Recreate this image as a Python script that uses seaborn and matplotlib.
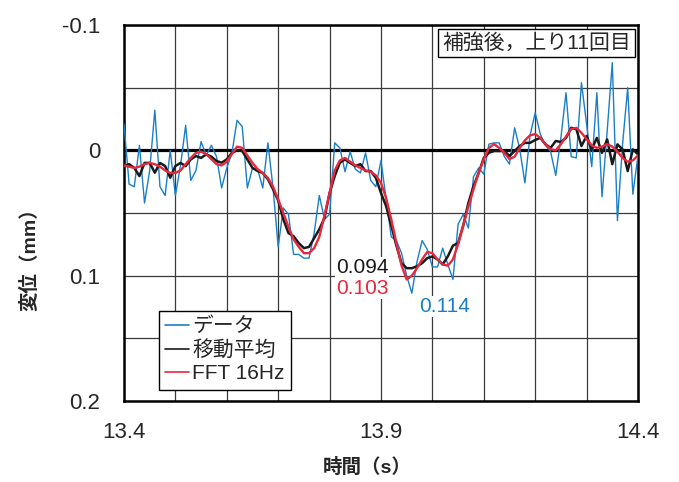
import numpy as np
import pandas as pd
import matplotlib
matplotlib.use('Agg')
import matplotlib.pyplot as plt
import seaborn as sns

# ------------------- data ----------------------------------------------
time = np.round(np.linspace(13.40, 14.40, 101), 2)

data_raw = [
    -0.021, 0.027, 0.029, -0.004, 0.042, 0.016, -0.032, 0.029, 0.036, 0.000,
    0.036, 0.012, -0.020, 0.024, 0.016, -0.007, 0.004, -0.004, 0.005, 0.030,
    0.014, 0.002, -0.024, -0.019, 0.030, 0.014, 0.015, 0.030, -0.006, 0.030,
    0.077, 0.046, 0.051, 0.083, 0.083, 0.086, 0.086, 0.066, 0.036, 0.055,
    0.051, -0.006, -0.002, 0.017, 0.001, 0.015, 0.018, 0.002, 0.024, 0.029,
    0.008, 0.039, 0.069, 0.072, 0.082, 0.100, 0.114, 0.089, 0.072, 0.079,
    0.093, 0.093, 0.078, 0.091, 0.103, 0.059, 0.051, 0.062, 0.021, 0.014,
    0.019, -0.005, -0.006, -0.006, 0.005, 0.011, -0.018, -0.001, 0.026, -0.012,
    -0.030, -0.013, -0.004, 0.001, 0.020, -0.010, -0.046, 0.005, 0.006, -0.054,
    -0.021, 0.013, -0.046, 0.037, -0.015, -0.070, 0.056, -0.005, -0.050, 0.035,
    0.004,
]

moving_avg = [
    0.0125, 0.011, 0.014, 0.0205, 0.010, 0.010, 0.0178, 0.010, 0.0125, 0.0218,
    0.0125, 0.010, 0.0125, 0.0072, 0.0045, 0.006, 0.0032, 0.005, 0.0085, 0.0098,
    0.0072, 0.0019, 0.000, 0.0005, 0.0072, 0.014, 0.0165, 0.018, 0.023, 0.031,
    0.040, 0.055, 0.066, 0.0685, 0.074, 0.078, 0.077, 0.070, 0.063, 0.054,
    0.034, 0.0205, 0.0098, 0.0072, 0.010, 0.0125, 0.011, 0.0165, 0.0165, 0.022,
    0.034, 0.0445, 0.060, 0.076, 0.090, 0.094, 0.094, 0.0925, 0.090, 0.086,
    0.0846, 0.087, 0.091, 0.0846, 0.076, 0.074, 0.060, 0.042, 0.0286, 0.018,
    0.006, 0.0019, 0.0005, 0.0005, 0.0005, 0.0045, 0.0005, -0.0035, -0.006, -0.006,
    -0.0083, -0.010, -0.0048, -0.002, -0.0075, -0.0067, -0.010, -0.018, -0.017, -0.0035,
    -0.0115, -0.0008, -0.010, 0.0019, -0.0088, 0.011, -0.0048, -0.0008, 0.0165, -0.0008,
    0.0032,
]

fft_16hz = [
    0.012, 0.013, 0.014, 0.013, 0.011, 0.010, 0.011, 0.013, 0.016, 0.018,
    0.018, 0.016, 0.011, 0.006, 0.002, 0.001, 0.003, 0.007, 0.011, 0.012,
    0.009, 0.003, -0.003, -0.002, 0.004, 0.010, 0.015, 0.018, 0.022, 0.029,
    0.039, 0.050, 0.061, 0.071, 0.077, 0.082, 0.082, 0.078, 0.069, 0.052,
    0.034, 0.016, 0.008, 0.006, 0.009, 0.012, 0.014, 0.016, 0.017, 0.020,
    0.026, 0.038, 0.055, 0.074, 0.092, 0.103, 0.100, 0.094, 0.087, 0.081,
    0.082, 0.087, 0.091, 0.092, 0.087, 0.075, 0.060, 0.045, 0.031, 0.018,
    0.007, -0.002, -0.005, -0.002, 0.002, 0.007, 0.005, -0.002, -0.008, -0.012,
    -0.013, -0.010, -0.005, -0.001, 0.000, -0.005, -0.011, -0.017, -0.018, -0.014,
    -0.009, -0.004, -0.002, -0.003, -0.005, -0.003, 0.001, 0.006, 0.009, 0.008,
    0.004,
]

series_names = ['データ', '移動平均', 'FFT 16Hz']
series_colors = ['#1a7fc6', '#1a1a1a', '#e8283c']
peak_labels = ['0.094', '0.103', '0.114']

x_ticks = [13.4, 13.5, 13.6, 13.7, 13.8, 13.9, 14.0, 14.1, 14.2, 14.3, 14.4]
x_ticklabels = ['13.4', '', '', '', '', '13.9', '', '', '', '', '14.4']
y_ticks = [-0.1, 0.0, 0.1, 0.2]
y_ticklabels = ['-0.1', '0', '0.1', '0.2']

# ------------------- plot ---------------------
sns.set_style('white')
plt.rcParams['font.family'] = ['Liberation Sans', 'Noto Sans CJK JP', 'DejaVu Sans']

fig = plt.figure(figsize=(6.79, 4.82), dpi=100)
ax = fig.add_axes([0.1826, 0.168, 0.757, 0.780])

df = pd.DataFrame({'time': time, series_names[0]: data_raw,
                   series_names[1]: moving_avg, series_names[2]: fft_16hz})

widths = [1.0, 1.8, 1.7]
for name, col, lw in zip(series_names, series_colors, widths):
    sns.lineplot(data=df, x='time', y=name, ax=ax, color=col, lw=lw, label=name, zorder=3)

ax.axhline(0, color='black', lw=2.3, zorder=2)

ax.set_xlim(13.4, 14.4)
ax.set_ylim(0.2, -0.1)
ax.set_xticks(x_ticks)
ax.set_xticklabels(x_ticklabels)
ax.set_yticks(y_ticks)
ax.set_yticklabels(y_ticklabels)
ax.set_yticks([-0.05, 0.05, 0.15], minor=True)
ax.grid(True, which='both', color='#3a3a3a', lw=0.9, zorder=1)
ax.tick_params(axis='both', which='both', length=0, labelsize=16)
ax.tick_params(axis='y', pad=17)
ax.tick_params(axis='x', pad=15)
for sp in ax.spines.values():
    sp.set_color('black')
    sp.set_linewidth(1.8)

ax.set_xlabel('時間（s）', fontsize=14, fontweight='bold')
ax.set_ylabel('変位（mm）', fontsize=14, fontweight='bold')
ax.xaxis.set_label_coords(0.473, -0.176)
ax.yaxis.set_label_coords(-0.183, 0.39)
ax.xaxis.label.set_va('center')
ax.yaxis.label.set_va('center')

# peak annotations
ax.text(13.863, 0.0934, peak_labels[0], color=series_colors[1], fontsize=15,
        ha='center', va='center', zorder=5,
        bbox=dict(boxstyle='square,pad=0.05', fc='white', ec='none'))
ax.text(13.863, 0.110, peak_labels[1], color=series_colors[2], fontsize=15,
        ha='center', va='center', zorder=5,
        bbox=dict(boxstyle='square,pad=0.05', fc='white', ec='none'))
ax.text(14.023, 0.1245, peak_labels[2], color=series_colors[0], fontsize=15,
        ha='center', va='center', zorder=5,
        bbox=dict(boxstyle='square,pad=0.05', fc='white', ec='none'))

ax.text(0.986, 0.978, '補強後，上り11回目', transform=ax.transAxes, fontsize=15,
        ha='right', va='top', zorder=6,
        bbox=dict(boxstyle='square,pad=0.2', fc='white', ec='black', lw=1.0))

leg = ax.legend(loc='lower left', bbox_to_anchor=(0.068, 0.03), fontsize=15,
                frameon=True, fancybox=False, edgecolor='black', framealpha=1,
                handlelength=1.15, handletextpad=0.15, labelspacing=0.2,
                borderpad=0.3, borderaxespad=0)
leg.get_frame().set_linewidth(1.0)
for h in leg.get_lines():
    h.set_linewidth(1.2)
leg.set_zorder(7)

fig.savefig('out.png', dpi=100)
